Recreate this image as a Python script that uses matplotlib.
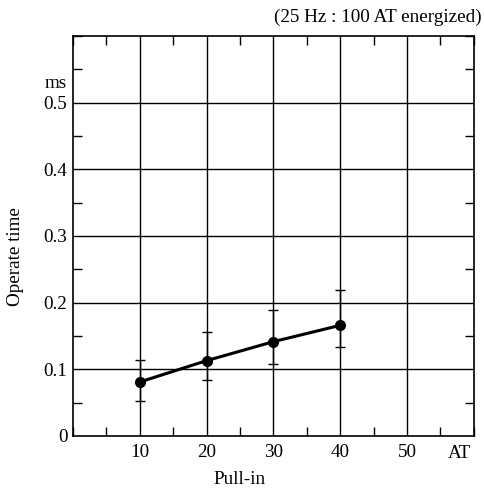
import matplotlib.pyplot as plt
from matplotlib.ticker import MultipleLocator

# Pull-in (AT) vs operate time (ms)
pullIn = [10, 20, 30, 40]
operateTime = [0.081, 0.113, 0.1415, 0.166]
timeMin = [0.0525, 0.0845, 0.1075, 0.1335]
timeMax = [0.1145, 0.1555, 0.1885, 0.2195]

xTicks = [10, 20, 30, 40, 50]
yTicks = [0.1, 0.2, 0.3, 0.4, 0.5]
yTickLabels = ["0.1", "0.2", "0.3", "0.4", "0.5"]

plt.rcParams['font.family'] = ['Liberation Serif', 'DejaVu Serif']
fs = 13.8

fig = plt.figure(figsize=(4.84, 4.88), dpi=100)
ax = fig.add_axes([0.1508, 0.1066, 0.8282, 0.8196])

ax.set_xlim(0, 60)
ax.set_ylim(0, 0.6)

# grid at the major ticks
for x in xTicks:
    ax.axvline(x, color="black", linewidth=1.0, zorder=1)
for y in yTicks:
    ax.axhline(y, color="black", linewidth=1.0, zorder=1)

lowErr = [v - lo for v, lo in zip(operateTime, timeMin)]
highErr = [hi - v for v, hi in zip(operateTime, timeMax)]
ax.errorbar(pullIn, operateTime, yerr=[lowErr, highErr], fmt="none",
            ecolor="black", elinewidth=1.0, capsize=3.6, capthick=1.0, zorder=2)
ax.plot(pullIn, operateTime, color="black", linewidth=2.2, marker="o",
        markersize=7, zorder=3)

ax.set_xticks(xTicks)
ax.set_xticklabels([str(x) for x in xTicks])
ax.set_yticks([0] + yTicks)
ax.set_yticklabels(["0"] + yTickLabels)
ax.xaxis.set_minor_locator(MultipleLocator(5))
ax.yaxis.set_minor_locator(MultipleLocator(0.05))

ax.tick_params(which="major", length=0, labelsize=fs)
ax.tick_params(axis="x", which="major", pad=6)
ax.tick_params(axis="y", which="major", pad=4)
ax.tick_params(which="minor", direction="in", length=6.5, width=1.0,
               top=True, right=True)

for s in ax.spines.values():
    s.set_linewidth(1.2)

fig.text(67 / 484, 1 - 84 / 488, "ms", ha="right", va="center", fontsize=fs)
fig.text(459 / 484, 1 - 453 / 488, "AT", ha="center", va="center", fontsize=fs)
fig.text(240 / 484, 1 - 480 / 488, "Pull-in", ha="center", va="center", fontsize=fs)
fig.text(16 / 484, 1 - 257 / 488, "Operate time", ha="center", va="center",
         rotation=90, fontsize=fs)
fig.text(482 / 484, 1 - 17 / 488, "(25 Hz : 100 AT energized)", ha="right",
         va="center", fontsize=fs)

fig.savefig("out.png", dpi=100)
